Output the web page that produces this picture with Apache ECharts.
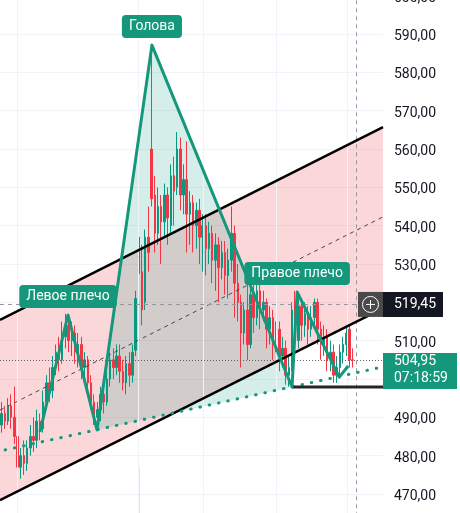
<!DOCTYPE html>
<html>
<head>
<meta charset="utf-8">
<style>
    html, body { margin: 0; padding: 0; background: #fff; }
    #chart { width: 460px; height: 513px; }
</style>
<script src="https://cdn.jsdelivr.net/npm/echarts@6/dist/echarts.min.js"></script>
</head>
<body>
<div id="chart"></div>
<script>
const SLOTS = 120;
const FONT = 'Roboto, "Noto Sans", sans-serif';
const UP = '#089981';
const DOWN = '#f23645';
const PATTERN = '#14977b';

// [open, close, low, high]
const candles = [
    [488, 491, 486, 494], [491, 489, 487, 493], [489, 493, 488, 495], [493, 490, 487, 496],
    [490, 485, 483, 498], [485, 477, 471.6, 487], [477, 480, 474, 482], [480, 478, 475, 484],
    [478, 482, 476, 484], [482, 485, 480, 488], [485, 484, 481, 490], [484, 489, 482, 492],
    [489, 487, 484, 491], [487, 494, 486, 497], [494, 499, 492, 501], [499, 497, 494, 503],
    [497, 503, 495, 506], [503, 507, 501, 509], [507, 505, 502, 511], [505, 511, 504, 515],
    [511, 514, 508, 517], [514, 510, 507, 516], [510, 512, 506, 515], [512, 507, 504, 514],
    [507, 509, 503, 512], [509, 503, 500, 511], [503, 505, 499, 507], [505, 499, 496, 506],
    [499, 494, 492, 501], [494, 490, 488, 496], [490, 492, 487.5, 494], [492, 496, 489, 498],
    [496, 494, 491, 499], [494, 500, 493, 502], [500, 505, 498, 507], [505, 503, 500, 508],
    [503, 506, 501, 509], [506, 502, 499, 509], [502, 499, 497, 505], [499, 504, 496, 506],
    [504, 501, 498, 507], [501, 507, 499, 509], [507.5, 521, 506, 523], [527.5, 537, 525, 540],
    [528, 518, 514, 535], [520, 537, 518, 539], [537, 533, 528, 545], [560, 547, 545, 587],
    [548, 538, 533, 553], [538, 545, 535, 550], [545, 541, 530, 548], [541, 548, 537, 551],
    [548, 542, 535, 550], [540, 553, 538, 556], [553, 549, 540, 558], [550, 560, 548, 564.4],
    [560, 548, 544, 563], [548, 552, 543, 556], [552, 543, 533, 562], [543, 546, 535, 549],
    [546, 540, 533, 548], [540, 544, 534, 546], [544, 537, 530, 547], [537, 540, 528, 543],
    [540, 534, 527, 543], [534, 538, 530, 541], [538, 531, 525, 540], [531, 535, 523, 538],
    [535, 529, 520, 537], [529, 533, 526, 536], [533, 527, 522, 536], [527, 531, 521, 534],
    [531, 538, 528, 545], [538, 525, 516, 540], [525, 520, 515, 530], [520, 512, 503, 522],
    [512, 518, 509, 520], [518, 509, 505, 526], [509, 522, 508, 526], [522, 516, 512, 528],
    [516, 523, 514, 526], [523, 518, 513, 525], [518, 520, 515, 523], [520, 513, 508, 521],
    [513, 516, 509, 519], [516, 510, 505, 518], [510, 513, 507, 515], [513, 506, 502, 515],
    [506, 508, 503, 511], [508, 501, 498.5, 510], [501, 503, 498, 506], [503, 518, 502, 520],
    [517, 510, 507, 523], [510, 519, 508, 521], [519, 514, 510, 521], [514, 517, 511, 520],
    [517, 513, 509, 519], [513, 516, 511, 519], [516, 520, 514, 521], [520, 513, 509, 521],
    [513, 509, 505, 515], [509, 511, 506, 514], [511, 505, 502, 513], [505, 507, 502, 510],
    [507, 501, 499, 509], [501, 503, 499, 506], [503, 507, 501, 509], [507, 509, 504, 511],
    [509, 512, 506, 514], [513, 505, 503, 514], [505, 504.95, 503, 508]
];

// [slot, volume]
const volume = [[43, 46]];

// drawings, in [slot, price]
const channelTop = [[-0.5, 515.4], [119.5, 565.7]];
const channelBottom = [[-0.5, 468.4], [119.5, 518.4]];
const channelMid = [[-0.5, 491.9], [119.5, 542.3]];
const patternLine = [
    [12.0, 486.2], [20.8, 516.7], [29.9, 486.7], [47.1, 587.1],
    [91.0, 497.9], [92.6, 522.7], [105.8, 500.5], [108.6, 503.4]
];
const headArea = [[29.9, 486.7], [47.1, 587.1], [91.0, 497.9]];
const neckline = [[1.1, 481.5], [118.0, 502.9]];
const supportLine = [[91.0, 497.9], [119.5, 497.9]];
const patternNames = ['Левое плечо', 'Голова', 'Правое плечо'];
const patternPeaks = [[20.8, 516.7], [47.1, 587.1], [92.6, 522.7]];

const timeGridSlots = [4.8, 42.8, 63.1, 86.0, 108.3];
const crossSlot = 111.1;
const crossPrice = 519.45;
const lastPrice = 504.95;
const lastTime = '07:18:59';

const fmtPrice = v => v.toFixed(2).replace('.', ',');

const chart = echarts.init(document.getElementById('chart'));

function polygon(points, fill, z) {
    return {
        type: 'custom',
        xAxisIndex: 1,
        yAxisIndex: 0,
        silent: true,
        clip: true,
        z: z,
        data: [[points[0][0], points[0][1]]],
        renderItem: (params, api) => ({
            type: 'polygon',
            shape: { points: points.map(p => api.coord(p)) },
            style: { fill: fill }
        })
    };
}

function line(data, style, z) {
    return {
        type: 'line',
        xAxisIndex: 1,
        yAxisIndex: 0,
        silent: true,
        symbol: 'none',
        z: z,
        data: data,
        lineStyle: style
    };
}

const slots = Array.from({ length: SLOTS }, (_, i) => i);

chart.setOption({
    animation: false,
    textStyle: { fontFamily: FONT },
    grid: [
        { left: 0, right: 77, top: -4.33, bottom: -19.33, outerBoundsMode: 'none' },
        { left: 0, right: 77, bottom: 0, height: 100, outerBoundsMode: 'none' }
    ],
    xAxis: [
        { type: 'category', data: slots, gridIndex: 0, boundaryGap: true, show: false },
        { type: 'value', min: -0.5, max: SLOTS - 0.5, gridIndex: 0, show: false },
        { type: 'category', data: slots, gridIndex: 1, boundaryGap: true, show: false }
    ],
    yAxis: [
        {
            type: 'value',
            gridIndex: 0,
            position: 'right',
            min: 460,
            max: 600,
            interval: 10,
            axisLine: { show: false },
            axisTick: { show: false },
            splitLine: { lineStyle: { color: '#f0f3fa', width: 1 } },
            axisLabel: {
                color: '#131722',
                fontSize: 14,
                margin: 11,
                fontFamily: FONT,
                formatter: v => '{p|' + fmtPrice(v) + '}',
                rich: {
                    p: { color: '#131722', fontSize: 14, fontFamily: FONT, padding: [5, 0, 0, 0] }
                }
            }
        },
        { type: 'value', gridIndex: 1, min: 0, max: 100, show: false }
    ],
    series: [
        {
            // time grid lines
            type: 'line',
            xAxisIndex: 1,
            yAxisIndex: 0,
            silent: true,
            data: [],
            z: 0,
            markLine: {
                silent: true,
                symbol: 'none',
                label: { show: false },
                lineStyle: { color: '#f0f3fa', width: 1, type: 'solid' },
                data: timeGridSlots.map(s => ({ xAxis: s }))
            }
        },
        polygon(channelTop.concat(channelBottom.slice().reverse()), 'rgba(242, 54, 69, 0.2)', 1),
        polygon(headArea, 'rgba(8, 153, 129, 0.17)', 2),
        {
            // crosshair and last price line
            type: 'line',
            xAxisIndex: 1,
            yAxisIndex: 0,
            silent: true,
            data: [],
            z: 2,
            markLine: {
                silent: true,
                symbol: 'none',
                label: { show: false },
                data: [
                    { xAxis: crossSlot, lineStyle: { color: '#9598a1', width: 1, type: [4, 4] } },
                    { yAxis: crossPrice, lineStyle: { color: '#9598a1', width: 1, type: [4, 4] } },
                    { yAxis: lastPrice, lineStyle: { color: '#5d606b', width: 1, type: [1, 2] } }
                ]
            }
        },
        {
            type: 'bar',
            xAxisIndex: 2,
            yAxisIndex: 1,
            silent: true,
            barWidth: 1,
            data: volume,
            itemStyle: { color: 'rgba(8, 153, 129, 0.5)' }
        },
        {
            type: 'candlestick',
            xAxisIndex: 0,
            yAxisIndex: 0,
            silent: true,
            z: 3,
            barWidth: 2,
            data: candles,
            itemStyle: {
                color: UP,
                color0: DOWN,
                borderColor: UP,
                borderColor0: DOWN,
                borderWidth: 1
            }
        },
        line(channelMid, { color: '#434651', width: 1, type: [4, 4] }, 4),
        line(channelTop, { color: '#000', width: 2.5 }, 5),
        line(channelBottom, { color: '#000', width: 2.5 }, 5),
        line(neckline, { color: PATTERN, width: 3, type: [0.5, 9], cap: 'round' }, 5),
        line(supportLine, { color: '#262626', width: 3 }, 5),
        line(patternLine, { color: PATTERN, width: 3, join: 'round' }, 6),
        {
            type: 'scatter',
            xAxisIndex: 1,
            yAxisIndex: 0,
            silent: true,
            symbolSize: 0,
            z: 10,
            itemStyle: { opacity: 1 },
            data: patternPeaks.map((p, i) => ({ name: patternNames[i], value: p })),
            label: {
                show: true,
                position: 'top',
                distance: 7,
                formatter: '{b}',
                color: '#fff',
                fontSize: 14,
                fontFamily: FONT,
                lineHeight: 15,
                backgroundColor: PATTERN,
                borderRadius: 4,
                padding: [4, 7]
            }
        }
    ]
});

// price tags on the right axis
const gridRight = 383;
const yCross = chart.convertToPixel({ yAxisIndex: 0 }, crossPrice);
const yLast = chart.convertToPixel({ yAxisIndex: 0 }, lastPrice);

chart.setOption({
    graphic: [
        {
            type: 'rect', z: 100,
            shape: { x: gridRight - 25, y: yCross - 12.5, width: 25, height: 25 },
            style: { fill: '#4a4a4a' }
        },
        {
            type: 'circle', z: 101,
            shape: { cx: gridRight - 12.5, cy: yCross, r: 8 },
            style: { fill: 'none', stroke: '#fff', lineWidth: 1 }
        },
        {
            type: 'polyline', z: 101,
            shape: { points: [[gridRight - 17, yCross], [gridRight - 8, yCross]] },
            style: { stroke: '#fff', lineWidth: 1 }
        },
        {
            type: 'polyline', z: 101,
            shape: { points: [[gridRight - 12.5, yCross - 4.5], [gridRight - 12.5, yCross + 4.5]] },
            style: { stroke: '#fff', lineWidth: 1 }
        },
        {
            type: 'rect', z: 100,
            shape: { x: gridRight, y: yCross - 12.5, width: 60, height: 25 },
            style: { fill: '#131722' }
        },
        {
            type: 'text', z: 101,
            x: gridRight + 11, y: yCross,
            style: { text: fmtPrice(crossPrice), fill: '#fff', font: '14px ' + FONT, verticalAlign: 'middle' }
        },
        {
            type: 'rect', z: 100,
            shape: { x: gridRight, y: yLast - 7, width: 74, height: 36 },
            style: { fill: PATTERN }
        },
        {
            type: 'text', z: 101,
            x: gridRight + 11, y: yLast + 1,
            style: { text: fmtPrice(lastPrice), fill: '#fff', font: '14px ' + FONT, verticalAlign: 'middle' }
        },
        {
            type: 'text', z: 101,
            x: gridRight + 11, y: yLast + 18,
            style: { text: lastTime, fill: '#fff', font: '14px ' + FONT, verticalAlign: 'middle' }
        }
    ]
});
</script>
</body>
</html>
